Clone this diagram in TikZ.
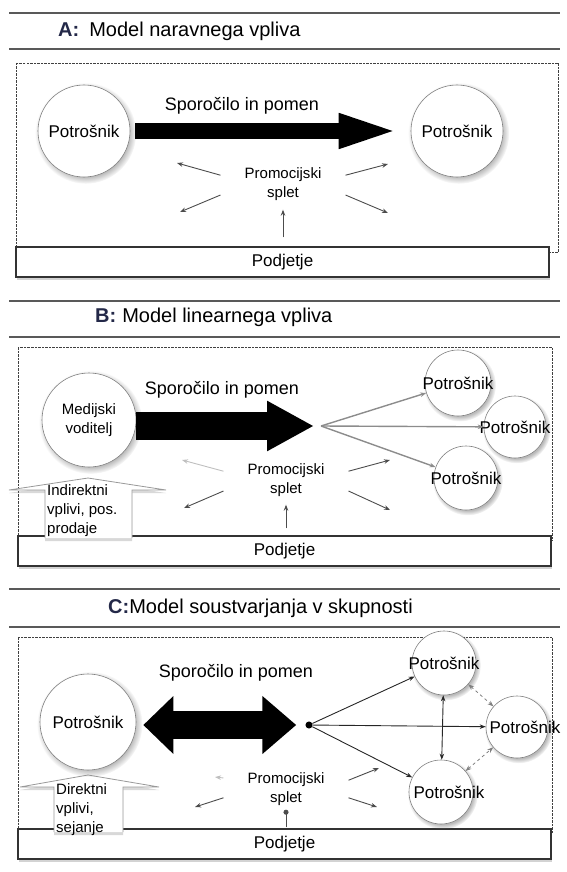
\documentclass[tikz,border=0pt]{standalone}
\usepackage{fontspec}
\setmainfont{Liberation Sans}
\usetikzlibrary{arrows.meta,shadows}
\definecolor{tagblue}{RGB}{35,40,72}

\begin{document}
\begin{tikzpicture}[x=1pt, y=-1pt, >={Stealth[length=6pt,width=4.5pt]},
  rule/.style={line width=1.6pt, black!65},
  frame/.style={draw=black!75, line width=0.8pt, dash pattern=on 2.5pt off 1pt},
  firm/.style={draw=black!80, line width=1.4pt, fill=white, minimum width=533pt, minimum height=30pt, inner sep=0pt, font=\fontsize{17}{20}\selectfont, drop shadow={shadow xshift=1pt, shadow yshift=-3pt, opacity=0.35}},
  consumer/.style={circle, draw=black!50, line width=0.6pt, fill=white, inner sep=0pt, circular drop shadow={shadow xshift=1.5pt, shadow yshift=-2pt, opacity=0.55}},
  ctext/.style={font=\fontsize{17}{20}\selectfont},
  title/.style={anchor=west, inner sep=0pt, font=\fontsize{20}{23}\selectfont},
  message/.style={font=\fontsize{18}{21}\selectfont},
  promo/.style={align=center, inner xsep=24pt, inner ysep=2pt, font=\fontsize{15}{19}\selectfont},
  note/.style={align=left, anchor=north west, inner sep=0pt, font=\fontsize{15}{19}\selectfont},
  lift/.style={fill=white, draw=black!40, line width=0.8pt, drop shadow={shadow xshift=0pt, shadow yshift=-3pt, opacity=0.3}},
  fan/.style={->, black!70, line width=0.9pt},
  spread/.style={->, black!45, line width=1.4pt},
  share/.style={->, black!85, line width=0.9pt},
  peer/.style={<->, black!50, dashed, line width=0.8pt}]
\useasboundingbox (0,0) rectangle (566,872);
% ---
% A
% ---
\draw[rule] (9,13) -- (560,13);
\node[title] (tA) at (58,31) {{\bfseries\color{tagblue}A:}\hspace{10pt}Model naravnega vpliva};
\draw[rule] (9,49) -- (560,49);
\draw[frame] (16,63) rectangle (558,252);
\node[firm] (podA) at (282.5,262) {Podjetje};
\node[consumer, minimum size=92pt, label={[ctext]center:Potrošnik}] (pA1) at (84,131) {};
\node[consumer, minimum size=92pt, label={[ctext]center:Potrošnik}] (pA2) at (457,131) {};
\draw[line width=16pt, -{Triangle[length=64pt,width=30pt]}, shorten <=5pt, shorten >=8pt] (pA1) -- (pA2);
\node[message] (mA) at (242,106) {Sporočilo in pomen};
\node[promo] (promA) at (283,184) {Promocijski\\splet};
\coordinate (aUL) at (177,163);
\coordinate (aDL) at (180,212);
\coordinate (aUR) at (388,164);
\coordinate (aDR) at (388,213);
\draw[fan] (promA.172) -- (aUL);
\draw[fan] (promA.190) -- (aDL);
\draw[fan] (promA.8) -- (aUR);
\draw[fan] (promA.-10) -- (aDR);
\draw[fan, shorten <=9pt, shorten >=7pt] (podA.north -| promA.south) -- (promA.south);
% ---
% B
% ---
\draw[rule] (9,301) -- (560,301);
\node[title] (tB) at (95,317) {{\bfseries\color{tagblue}B:}\hspace{6pt}Model linearnega vpliva};
\draw[rule] (9,337) -- (560,337);
\draw[frame] (18,347) rectangle (552,540);
\node[firm] (podB) at (284.5,551) {Podjetje};
\draw[lift] (45,538) -- (45,490) -- (9,490) -- (88,478) -- (166,490) -- (132,490) -- (132,538);
\node[note] (indB) at (47,484) {Indirektni\\vplivi, pos.\\prodaje};
\node[consumer, minimum size=94pt, label={[ctext, align=center, font=\fontsize{15}{19}\selectfont]center:{Medijski\\voditelj}}] (mlB) at (89,420) {};
\coordinate (hubB) at (321,426);
\draw[line width=28pt, -{Triangle[length=47pt,width=47pt]}, shorten >=7pt] (mlB.east |- hubB) -- (hubB);
\node[message] (mB) at (222,390) {Sporočilo in pomen};
\node[consumer, minimum size=66pt, label={[ctext]center:Potrošnik}] (pB1) at (458,383) {};
\node[consumer, minimum size=62pt, label={[ctext]center:Potrošnik}] (pB2) at (515,427) {};
\node[consumer, minimum size=64pt, label={[ctext]center:Potrošnik}] (pB3) at (466,478) {};
\draw[spread] (hubB) -- (pB1);
\draw[spread] (hubB) -- (pB2);
\draw[spread] (hubB) -- (pB3);
\node[promo] (promB) at (286,480) {Promocijski\\splet};
\coordinate (bUL) at (182,460);
\coordinate (bDL) at (184,508);
\coordinate (bUR) at (390,460);
\coordinate (bDR) at (390,510);
\draw[fan, black!25] (promB.172) -- (bUL);
\draw[fan] (promB.190) -- (bDL);
\draw[fan] (promB.8) -- (bUR);
\draw[fan] (promB.-10) -- (bDR);
\draw[fan, shorten <=7pt, shorten >=6pt] (podB.north -| promB.south) -- (promB.south);
% ---
% C
% ---
\draw[rule] (9,589) -- (560,589);
\node[title] (tC) at (108,608) {{\bfseries\color{tagblue}C:}Model soustvarjanja v skupnosti};
\draw[rule] (9,627) -- (560,627);
\draw[frame] (18,637) rectangle (552,832);
\node[firm] (podC) at (284.5,844) {Podjetje};
\draw[lift] (54,832) -- (54,787) -- (20,787) -- (88,775) -- (159,787) -- (123,787) -- (123,832);
\node[note] (dirC) at (56,783) {Direktni\\vplivi,\\sejanje};
\node[consumer, minimum size=96pt, label={[ctext]center:Potrošnik}] (pC1) at (88,722) {};
\node[circle, fill=black, inner sep=2.5pt] (hubC) at (309,725) {};
\draw[line width=28pt, {Triangle[length=30pt,width=56pt]}-{Triangle[length=34pt,width=56pt]}, shorten <=7pt, shorten >=9pt] (pC1.east |- hubC) -- (hubC);
\node[message] (mC) at (236,673) {Sporočilo in pomen};
\node[consumer, minimum size=64pt, label={[ctext]center:Potrošnik}] (pC2) at (444,663) {};
\node[consumer, minimum size=62pt, label={[ctext, xshift=8pt]center:Potrošnik}] (pC3) at (517,727) {};
\node[consumer, minimum size=64pt, label={[ctext, xshift=8pt]center:Potrošnik}] (pC4) at (441,792) {};
\draw[share] (hubC) -- (pC2);
\draw[share] (hubC) -- (pC3);
\draw[share] (hubC) -- (pC4);
\draw[share, <->] (pC2) -- (pC4);
\draw[peer] (pC2) -- (pC3);
\draw[peer] (pC4) -- (pC3);
\node[promo] (promC) at (286,789) {Promocijski\\splet};
\coordinate (cUL) at (215,777);
\coordinate (cDL) at (195,807);
\coordinate (cUR) at (379,768);
\coordinate (cDR) at (377,807);
\draw[fan, black!25] (promC.170) -- (cUL);
\draw[fan] (promC.188) -- (cDL);
\draw[fan] (promC.8) -- (cUR);
\draw[fan] (promC.-8) -- (cDR);
\draw[black!70, line width=0.9pt, -{Circle[length=5pt]}, shorten <=1pt, shorten >=2pt] (podC.north -| promC.south) -- (promC.south);
\end{tikzpicture}
\end{document}
